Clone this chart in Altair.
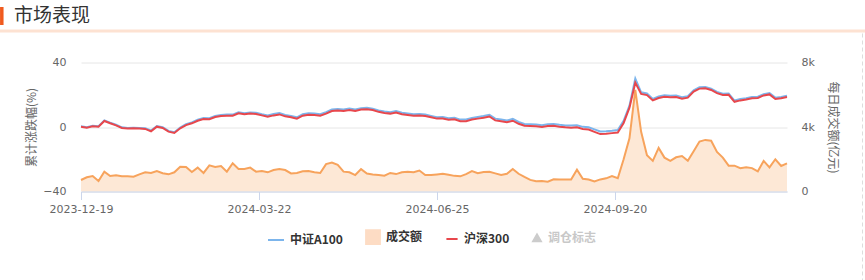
import altair as alt
import pandas as pd

# ---------------- data ----------------
tick_pos = [0, 61, 122, 183]
tick_labels = ["2023-12-19", "2024-03-22", "2024-06-25", "2024-09-20"]
day_idx = list(range(0, 243, 2))  # trading-day index, sampled every 2 days

hs300 = [0.2, -0.4, 0.4, 0.2, 3.7, 2.3, 1.0, -0.6, -1.0, -0.8,
         -1.0, -1.2, -2.7, 0.2, -0.6, -2.9, -3.7, -0.8, 1.2, 2.3,
         3.9, 5.0, 4.8, 6.2, 6.8, 7.0, 7.0, 8.5, 7.9, 8.3, 8.1, 7.2,
         6.3, 7.2, 7.8, 6.6, 6.0, 5.2, 7.0, 7.6, 7.4, 7.0,
         8.3, 9.9, 10.3, 9.9, 10.5, 9.9, 10.8, 11.0, 10.5, 9.4,
         8.7, 8.3, 9.0, 7.9, 7.5, 7.0, 7.2, 6.8, 6.0, 5.2,
         5.2, 4.5, 4.8, 3.6, 3.6, 4.6, 5.2, 5.7, 6.5, 4.1,
         3.5, 2.9, 3.9, 2.0, 0.8, 0.6, 0.4, 0.0, 0.6, 0.8,
         0.2, -0.2, -0.4, -0.2, -1.2, -1.6, -3.0, -4.4, -4.2, -3.8, -3.4,
         2.5, 12.0, 27.5, 20.5, 19.8, 16.5, 18.0, 18.8, 18.5, 18.6,
         17.6, 18.2, 22.0, 23.8, 24.0, 23.0, 21.0, 19.8, 20.0, 15.6,
         16.5, 17.0, 17.8, 18.0, 19.6, 20.2, 17.4, 17.8, 18.6]

csia100 = [0.4, -0.2, 0.7, 0.5, 4.1, 2.7, 1.4, -0.2, -0.6, -0.4,
           -0.6, -0.8, -2.2, 0.6, -0.1, -2.4, -3.2, -0.3, 1.7, 2.8,
           4.5, 5.6, 5.4, 6.8, 7.5, 7.7, 7.7, 9.2, 8.6, 9.0, 8.8, 7.9,
           7.1, 8.0, 8.6, 7.4, 6.8, 6.0, 7.9, 8.5, 8.3, 7.9,
           9.2, 10.8, 11.2, 10.8, 11.4, 10.8, 11.7, 11.9, 11.4, 10.3,
           9.6, 9.2, 9.9, 8.8, 8.4, 7.9, 8.1, 7.7, 6.9, 6.1,
           6.2, 5.5, 5.8, 4.6, 4.6, 5.6, 6.2, 6.8, 7.6, 5.2,
           4.6, 4.0, 5.0, 3.1, 1.9, 1.7, 1.5, 1.1, 1.7, 1.9,
           1.4, 1.0, 0.9, 1.1, 0.1, -0.2, -1.5, -2.8, -2.6, -2.3, -1.9,
           3.8, 13.2, 30.0, 21.5, 20.8, 17.4, 18.9, 19.7, 19.4, 19.5,
           18.5, 19.1, 22.8, 24.6, 24.8, 23.8, 21.8, 20.6, 20.8, 16.4,
           17.3, 17.8, 18.6, 18.8, 20.4, 21.0, 18.2, 18.6, 19.4]

volume = [713, 880, 960, 650, 1230, 960, 1000, 940, 940, 920,
          1064, 1190, 1150, 1270, 1130, 1064, 1190, 1540, 1520, 1210,
          1480, 1150, 1620, 1520, 1580, 1230, 1750, 1400, 1400, 1480, 1230, 1270,
          1190, 1330, 1390, 1330, 1120, 1150, 1250, 1270, 1190, 1150,
          1700, 1800, 1650, 1230, 1190, 1020, 1390, 1120, 1060, 1020,
          980, 1150, 1080, 1190, 1230, 1190, 1300, 1020, 1020, 1060,
          1100, 1040, 970, 940, 1080, 1270, 1130, 1210, 1230, 1126,
          1023, 1100, 1395, 1100, 900, 720, 630, 651, 610, 760,
          740, 750, 750, 1350, 790, 740, 620, 750, 816, 960, 820,
          2000, 3300, 6300, 3700, 2250, 1900, 2700, 2100, 1900, 2120,
          2200, 1900, 2500, 3100, 3200, 3150, 2450, 2100, 1600, 1600,
          1450, 1500, 1450, 1250, 1900, 1500, 2000, 1580, 1750]

leg_names = ["中证A100", "成交额", "沪深300", "调仓标志"]
leg_colors = ["#7cb5ec", "#fddcc4", "#e8474c", "#cccccc"]
leg_shapes = ["stroke", "square", "stroke", "triangle-up"]
leg_sizes = [256, 60, 256, 50]

df = pd.DataFrame({"i": day_idx, "hs300": hs300, "a100": csia100, "vol": volume})
one = pd.DataFrame({"k": [0]})
empty = pd.DataFrame({"s": pd.Series([], dtype=str)})

CJK = "Noto Sans CJK SC"
NUM = "DejaVu Sans"
W, H = 706, 129

x_expr = " : ".join(f"datum.value == {p} ? '{l}'" for p, l in zip(tick_pos, tick_labels)) + " : ''"

x_enc = alt.X(
    "i:Q",
    scale=alt.Scale(domain=[0, 242], nice=False, zero=False),
    axis=alt.Axis(values=tick_pos, labelExpr=x_expr, title=None, grid=False,
                  domainColor="#ccd6eb", tickColor="#ccd6eb", tickSize=8,
                  labelPadding=4, labelFlush=False, labelColor="#666666",
                  labelFont=NUM, labelFontSize=11, zindex=1),
)


def y_left(field):
    return alt.Y(
        f"{field}:Q",
        scale=alt.Scale(domain=[-40, 40], nice=False, zero=False),
        axis=alt.Axis(orient="left", values=[-40, 0, 40], title="累计涨跌幅(%)",
                      grid=True, gridColor="#e6e6e6", domain=False, ticks=False,
                      labelPadding=15, labelColor="#666666", labelFont=NUM,
                      labelFontSize=11, titleColor="#666666", titleFont=CJK,
                      titleFontSize=12, titleFontWeight="normal",
                      titleX=-49.5, titleY=H / 2, titleAngle=270,
                      titleAlign="center", titleBaseline="middle"),
    )


y_right = alt.Y(
    "vol:Q",
    scale=alt.Scale(domain=[0, 8000], nice=False),
    axis=alt.Axis(orient="right", values=[0, 4000, 8000],
                  labelExpr="datum.value == 0 ? '0' : format(datum.value / 1000, 'd') + 'k'",
                  title="每日成交额(亿元)", grid=False, domain=False, ticks=False,
                  labelPadding=14, labelColor="#666666", labelFont=NUM, labelFontSize=11,
                  titleColor="#666666", titleFont=CJK, titleFontSize=12,
                  titleFontWeight="normal", titleX=45, titleY=H / 2, titleAngle=90,
                  titleAlign="center", titleBaseline="middle"),
)

base = alt.Chart(df)
vol_area = base.mark_area(color="#fde8d6", opacity=1).encode(x=x_enc, y=y_right)
vol_line = base.mark_line(color="#f7a35c", strokeWidth=2).encode(x=x_enc, y=y_right)
blue_line = base.mark_line(color="#7cb5ec", strokeWidth=2).encode(x=x_enc, y=y_left("a100"))
red_line = base.mark_line(color="#e8474c", strokeWidth=2).encode(x=x_enc, y=y_left("hs300"))

leg = alt.Legend(title=None, orient="none", legendX=186, legendY=166.5,
                 direction="horizontal", padding=0, labelFont=CJK, labelFontSize=12,
                 labelFontWeight="bold",
                 labelColor=alt.ExprRef("datum.label == '调仓标志' ? '#c8c8c8' : '#333333'"),
                 labelOffset=5, columnPadding=19, symbolStrokeWidth=2)
legend_layer = alt.Chart(empty).mark_point(filled=True, opacity=1, strokeWidth=2).encode(
    fill=alt.Fill("s:N", scale=alt.Scale(domain=leg_names, range=leg_colors), legend=leg),
    stroke=alt.Stroke("s:N", scale=alt.Scale(domain=leg_names, range=leg_colors), legend=leg),
    shape=alt.Shape("s:N", scale=alt.Scale(domain=leg_names, range=leg_shapes), legend=leg),
    size=alt.Size("s:N", scale=alt.Scale(domain=leg_names, range=leg_sizes), legend=leg),
)

# decorations: title accent bar, separator line, right dashed border
accent = alt.Chart(one).mark_rule(color="#f05a1e", strokeWidth=3.5).encode(
    x=alt.value(-79.2), y=alt.value(-55.5), y2=alt.value(-37.5))
sep = alt.Chart(one).mark_rule(color="#fde2d2", strokeWidth=3).encode(
    x=alt.value(-81), x2=alt.value(W + 78), y=alt.value(-31.5))
border = alt.Chart(one).mark_rule(color="#dddddd", strokeWidth=1, strokeDash=[4, 3]).encode(
    x=alt.value(W + 75.5), y=alt.value(-29), y2=alt.value(H + 88.5))

vol_layer = alt.layer(vol_area, vol_line)
idx_layer = alt.layer(blue_line, red_line)

chart = alt.layer(vol_layer, idx_layer, legend_layer, accent, sep, border).resolve_scale(
    y="independent"
).properties(
    width=W, height=H,
    title=alt.TitleParams("市场表现", anchor="start", frame="group", font=CJK,
                          fontSize=19, fontWeight="normal", color="#333333",
                          dx=-67, dy=36, offset=0, baseline="alphabetic"),
    autosize=alt.AutoSizeParams(type="none"),
    padding={"left": 81, "top": 62.5, "right": 78, "bottom": 88.5},
    background="white",
).configure_view(strokeWidth=0)

chart.save("out.html", embed_options={"renderer": "svg", "actions": False})
